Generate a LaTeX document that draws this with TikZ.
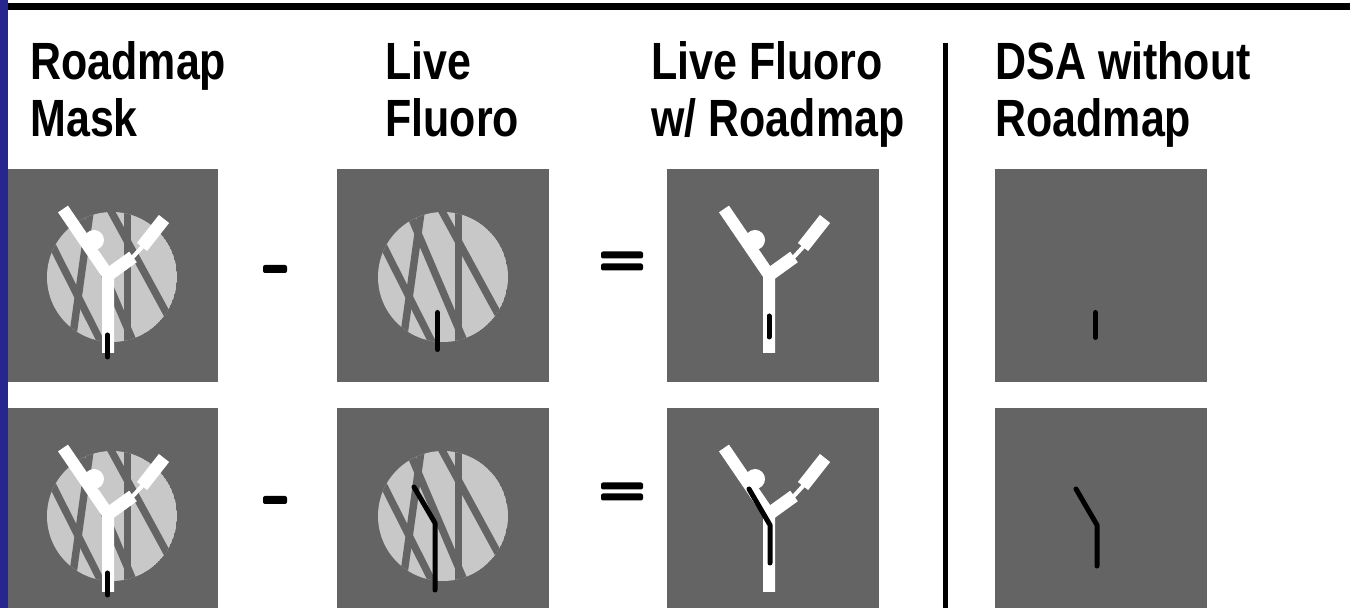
\documentclass[tikz,border=0pt]{standalone}
\usepackage{fontspec}
\newfontfamily\headfont[FakeStretch=0.82]{Liberation Sans}
\definecolor{slideblue}{RGB}{38,38,142}
\definecolor{panelgray}{RGB}{100,100,100}
\definecolor{fovgray}{RGB}{200,200,200}

\begin{document}
\begin{tikzpicture}[
    x=0.5pt, y=-0.5pt,
    panel/.style={
        fill=panelgray,
        anchor=north west,
        inner sep=0pt,
        minimum width=106pt,
        minimum height=106.5pt
    },
    heading/.style={
        anchor=base west,
        inner sep=0pt,
        align=left,
        font=\headfont\bfseries\fontsize{26.2}{28.5}\selectfont
    },
    bar/.style={
        fill=black,
        rounded corners=1pt,
        inner sep=0pt,
        minimum width=12pt,
        minimum height=4pt
    },
    eqbar/.style={
        bar,
        minimum width=21pt,
        minimum height=3.5pt
    },
    stripe/.style={panelgray, line width=3.7pt},
    catheter/.style={black, line width=2.5pt, line cap=round, line join=round},
    % field of view with the overlying stripes
    fov/.pic={
        \begin{scope}[shift={(106,108)}]
            \clip (0,0) circle (32.5pt);
            \fill[fovgray] (0,0) circle (32.5pt);
            \draw[stripe] (-105.5,-122) -- (35.5,157);
            \draw[stripe] (-6.5,-176) -- (-54.5,169);
            \draw[stripe] (-83.5,-181) -- (72.5,185);
            \draw[stripe] (15.5,-100) -- (15.5,100);
            \draw[stripe] (-54.5,-164) -- (110.5,139);
        \end{scope}
    },
    % contrast filled vessel tree
    vessel/.pic={
        \fill[white] (88,71) circle (5pt);
        \draw[white, line width=6pt, line join=round]
            (57,40) -- (102,106) -- (102,184);
        \draw[white, line width=6.5pt] (102,106) -- (127,88);
        \draw[white, line width=2pt] (126,89) -- (137,77);
        \draw[white, line width=6.5pt] (136,78) -- (158,50);
    }
]
    \useasboundingbox (0,0) rectangle (1350,608);
    \clip (0,0) rectangle (1350,608);
    \fill[white] (0,0) rectangle (1350,608);

    % --- Headings (anchored on the second line) ---
    \node[heading] (hm) at (30,137) {Roadmap\\Mask};
    \node[heading] (hl) at (385,137) {Live\\Fluoro};
    \node[heading] (hr) at (651,137) {Live Fluoro\\w/ Roadmap};
    \node[heading] (hd) at (995,137) {DSA without\\Roadmap};

    % --- Row 1: straight catheter ---
    \node[panel] (m1) at (6,169) {};
    \node[panel] (l1) at (337,169) {};
    \node[panel] (r1) at (667,169) {};
    \node[panel] (d1) at (995,169) {};

    \pic at (m1.north west) {fov};
    \pic at (m1.north west) {vessel};
    \draw[catheter] ([shift={(101.5,166)}]m1.north west) -- ++(0,22);

    \pic at (l1.north west) {fov};
    \draw[catheter] ([shift={(100.5,143.5)}]l1.north west) -- ++(0,37);

    \pic at (r1.north west) {vessel};
    \draw[catheter] ([shift={(102,147)}]r1.north west) -- ++(0,21);

    \draw[catheter] ([shift={(100.5,143.5)}]d1.north west) -- ++(0,25);

    \node[bar] (minus1) at (275,269) {};
    \node[eqbar] (eq1a) at (622,255) {};
    \node[eqbar] (eq1b) at (622,267) {};

    % --- Row 2: bent catheter ---
    \node[panel] (m2) at (6,408) {};
    \node[panel] (l2) at (337,408) {};
    \node[panel] (r2) at (667,408) {};
    \node[panel] (d2) at (995,408) {};

    \pic at (m2.north west) {fov};
    \pic at (m2.north west) {vessel};
    \draw[catheter] ([shift={(101.5,165)}]m2.north west) -- ++(0,22);

    \pic at (l2.north west) {fov};
    \draw[catheter] ([shift={(77,79)}]l2.north west)
        -- ([shift={(98,115)}]l2.north west) -- ([shift={(98,182)}]l2.north west);

    \pic at (r2.north west) {vessel};
    \draw[catheter] ([shift={(82,81)}]r2.north west)
        -- ([shift={(103,117)}]r2.north west) -- ([shift={(103,155)}]r2.north west);

    \draw[catheter] ([shift={(81,81)}]d2.north west)
        -- ([shift={(102,117)}]d2.north west) -- ([shift={(102,158)}]d2.north west);

    \node[bar] (minus2) at (275,500) {};
    \node[eqbar] (eq2a) at (622,486) {};
    \node[eqbar] (eq2b) at (622,497) {};

    % --- Frame ---
    \fill[black] (8,3.5) rectangle (1350,10.5);
    \draw[black, line width=2.5pt] (945,43) -- (945,608);
    \fill[slideblue] (0,0) rectangle (8,608);
\end{tikzpicture}
\end{document}
